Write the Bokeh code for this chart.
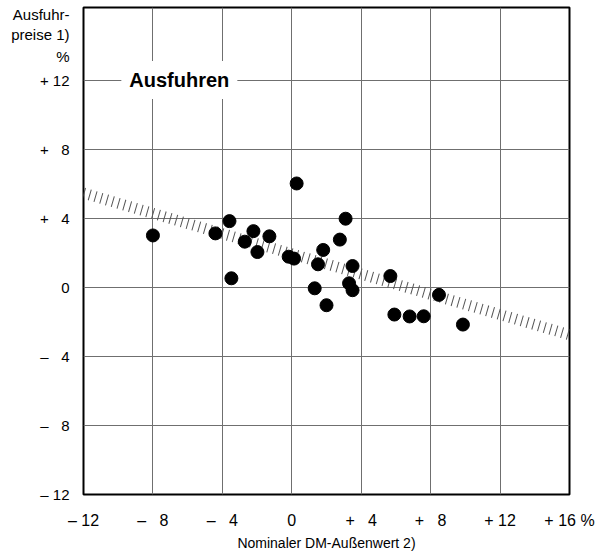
from bokeh.plotting import figure
from bokeh.models import Range1d, FixedTicker, Label
from bokeh.embed import file_html
from bokeh.resources import INLINE

# ---- data ----
x_vals = [-8.0, -4.4, -3.59, -3.48, -2.71, -2.21, -1.98, -1.29, -0.18, 0.13,
          0.28, 1.32, 1.51, 1.81, 2.0, 2.77, 3.1, 3.3, 3.5, 3.5,
          5.68, 5.91, 6.79, 7.6, 8.48, 9.86]
y_vals = [3.0, 3.12, 3.83, 0.52, 2.64, 3.25, 2.04, 2.95, 1.77, 1.66,
          6.01, -0.06, 1.33, 2.16, -1.04, 2.76, 3.97, 0.23, 1.23, -0.17,
          0.65, -1.58, -1.69, -1.68, -0.44, -2.16]
trend_x = [-12, 16]
trend_y = [5.45, -2.75]

x_ticks = [-12, -8, -4, 0, 4, 8, 12, 16]
x_tick_labels = ["– 12", "– \u20078", "– \u20074", "0", "+ \u20074", "+ \u20078", "+ 12", "+ 16 %"]
y_ticks = [-12, -8, -4, 0, 4, 8, 12]
y_tick_labels = ["– 12", "– \u20078", "– \u20074", "0", "+ \u20074", "+ \u20078", "+ 12"]
# y-axis title lines, placed at the top of the y axis (axis value of each line)
y_title_pos = [15.78, 14.62, 13.35]
y_title_lines = ["Ausfuhr-", "preise 1)", "%"]
x_title = "Nominaler DM-Außenwert 2)"
panel_title = "Ausfuhren"

FONT = "Liberation Sans"

p = figure(width=616, height=553, output_backend="svg", toolbar_location=None,
           x_range=Range1d(-12, 16), y_range=Range1d(-12, 16.2),
           min_border_left=83, min_border_right=47, min_border_top=7,
           min_border_bottom=58)

p.outline_line_color = "black"
p.outline_line_width = 2
p.background_fill_color = "white"
p.border_fill_color = "white"

xa = p.xaxis[0]
ya = p.yaxis[0]
xa.ticker = FixedTicker(ticks=x_ticks)
xa.major_label_overrides = {t: l for t, l in zip(x_ticks, x_tick_labels)}
ya.ticker = FixedTicker(ticks=y_ticks + y_title_pos)
ov = {t: l for t, l in zip(y_ticks, y_tick_labels)}
ov.update({t: l for t, l in zip(y_title_pos, y_title_lines)})
ya.major_label_overrides = ov

for ax in (xa, ya):
    ax.major_tick_in = 0
    ax.major_tick_out = 0
    ax.minor_tick_in = 0
    ax.minor_tick_out = 0
    ax.axis_line_color = None
    ax.major_label_text_font = FONT
    ax.major_label_text_font_size = "15px"
    ax.major_label_text_color = "black"

xa.major_label_text_font_size = "16px"
xa.major_label_standoff = 17
ya.major_label_standoff = 14
xa.axis_label = x_title
xa.axis_label_text_font = FONT
xa.axis_label_text_font_size = "14px"
xa.axis_label_text_font_style = "normal"
xa.axis_label_text_color = "black"
xa.axis_label_standoff = 3

p.xgrid.ticker = FixedTicker(ticks=x_ticks)
p.ygrid.ticker = FixedTicker(ticks=y_ticks)
for g in (p.xgrid[0], p.ygrid[0]):
    g.grid_line_color = "#6f6f6f"
    g.grid_line_width = 1

# hatched trend band
p.line(trend_x, trend_y, line_width=11, line_color="#555555",
       line_dash="1 5", line_cap="butt")

p.scatter(x_vals, y_vals, size=13, color="black")

p.add_layout(Label(x=-9.82, y=12.0, text=panel_title, text_font=FONT,
                   text_font_style="bold", text_font_size="20px",
                   text_color="black",
                   text_baseline="middle", text_align="left",
                   background_fill_color="white", padding=8))

open("out.html", "w").write(file_html(p, INLINE))
